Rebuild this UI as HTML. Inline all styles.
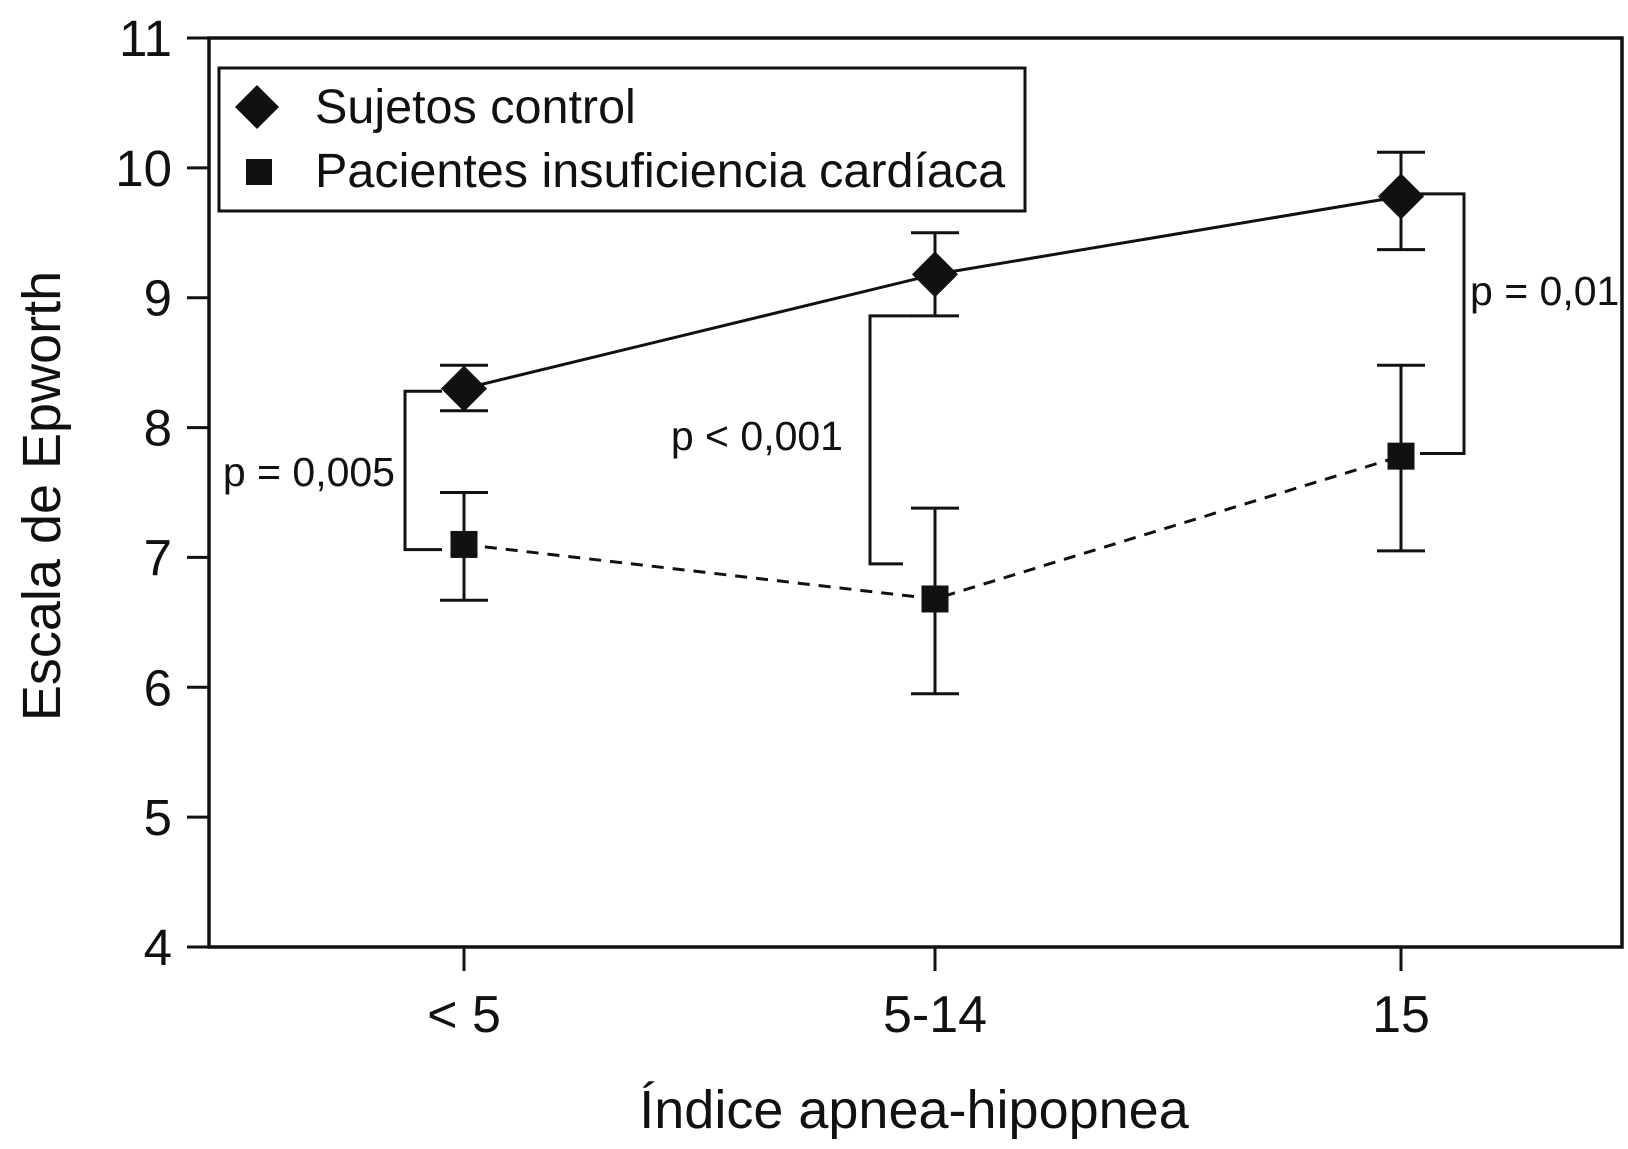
<!DOCTYPE html>
<html><head><meta charset="utf-8"><style>
html,body{margin:0;padding:0;background:#fff;}
svg{display:block;font-family:"Liberation Sans",sans-serif;}
</style></head><body>
<svg id="chart" width="1628" height="1149" viewBox="0 0 1628 1149"></svg>
<script>
const categories = ["< 5", "5-14", "15"];
const controlMean = [8.3, 9.18, 9.78];
const controlLow = [8.13, 8.86, 9.37];
const controlHigh = [8.48, 9.5, 10.12];
const patientMean = [7.1, 6.68, 7.78];
const patientLow = [6.67, 5.95, 7.05];
const patientHigh = [7.5, 7.38, 8.48];
const yTicks = [4, 5, 6, 7, 8, 9, 10, 11];
const pLabels = ["p = 0,005", "p < 0,001", "p = 0,01"];

const NS = "http://www.w3.org/2000/svg";
const svg = document.getElementById("chart");
const L = 209, R = 1622, T = 38, B = 947;
const catX = [464, 935, 1401];
function x(i){ return catX[i]; }
function y(v){ return B - (v - 4) / 7 * (B - T); }
function mk(tag, attrs, parent){
  const e = document.createElementNS(NS, tag);
  for (const k in attrs) e.setAttribute(k, attrs[k]);
  (parent || svg).appendChild(e);
  return e;
}
const S = "#111";
const frame = mk("rect", {x:L, y:T, width:R-L, height:B-T, fill:"none", stroke:S, "stroke-width":3.5});


yTicks.forEach(v => {
  const t = mk("line", {x1:187, x2:L, y1:y(v), y2:y(v), stroke:S, "stroke-width":3});
  
  
  const lb = mk("text", {x:172, y:y(v)+18, "text-anchor":"end", "font-size":51, fill:S});
  lb.textContent = v;
  
  
});
categories.forEach((c, i) => {
  const t = mk("line", {x1:x(i), x2:x(i), y1:B, y2:971, stroke:S, "stroke-width":3});
  
  
  const lb = mk("text", {x:x(i), y:1032, "text-anchor":"middle", "font-size":52, fill:S});
  lb.textContent = c;
  
  
});
const xt = mk("text", {x:914, y:1128, "text-anchor":"middle", "font-size":54, fill:S});
xt.textContent = "Índice apnea-hipopnea";


const yt = mk("text", {x:0, y:0, "text-anchor":"middle", "font-size":54, fill:S, transform:"translate(60,496) rotate(-90)"});
yt.textContent = "Escala de Epworth";


const cPts = controlMean.map((v,i)=>x(i)+","+y(v)).join(" ");
const cl = mk("polyline", {points:cPts, fill:"none", stroke:S, "stroke-width":3});


const pPts = patientMean.map((v,i)=>x(i)+","+y(v)).join(" ");
const pl = mk("polyline", {points:pPts, fill:"none", stroke:S, "stroke-width":3, "stroke-dasharray":"12,9"});


function errBar(i, lo, hi, name){
  const g = mk("g", {stroke:S, "stroke-width":3});
  
  
  mk("line", {x1:x(i), x2:x(i), y1:y(lo), y2:y(hi)}, g);
  mk("line", {x1:x(i)-24, x2:x(i)+24, y1:y(lo), y2:y(lo)}, g);
  mk("line", {x1:x(i)-24, x2:x(i)+24, y1:y(hi), y2:y(hi)}, g);
}
categories.forEach((c,i)=>{
  errBar(i, controlLow[i], controlHigh[i], 'control-error-bar');
  errBar(i, patientLow[i], patientHigh[i], 'patient-error-bar');
});
categories.forEach((c,i)=>{
  const cx = x(i), cy = y(controlMean[i]);
  const d = mk("polygon", {points:`${cx},${cy-23} ${cx+23},${cy} ${cx},${cy+23} ${cx-23},${cy}`, fill:S});
  
  
  const py = y(patientMean[i]);
  const s = mk("rect", {x:cx-13.5, y:py-13.5, width:27, height:27, fill:S});
  
  
});
function bracket(bx, x1Top, x1Bot, yTop, yBot, name){
  const p = mk("polyline", {points:`${x1Top},${yTop} ${bx},${yTop} ${bx},${yBot} ${x1Bot},${yBot}`, fill:"none", stroke:S, "stroke-width":3});
  
  
}
bracket(405, 442, 442, y(8.28), y(7.06), 'bracket-lt5');
bracket(870, 912, 903, y(8.86), y(6.95), 'bracket-5-14');
bracket(1464, 1420, 1420, y(9.8), y(7.8), 'bracket-15');
const pPos = [[395,486,"end"],[843,450,"end"],[1470,305,"start"]];
pLabels.forEach((t,i)=>{
  const e = mk("text", {x:pPos[i][0], y:pPos[i][1], "text-anchor":pPos[i][2], "font-size":41, fill:S});
  e.textContent = t;
  
  
});
const lg = mk("g", {});


mk("rect", {x:219, y:68, width:806, height:143, fill:"#fff", stroke:S, "stroke-width":3}, lg);
const ld = mk("polygon", {points:"257,85 279,107 257,129 235,107", fill:S}, lg);


const ls = mk("rect", {x:246, y:159, width:26, height:26, fill:S}, lg);


const t1 = mk("text", {x:315, y:123, "font-size":48.5, fill:S}, lg);
t1.textContent = "Sujetos control";


const t2 = mk("text", {x:315, y:187, "font-size":48.5, fill:S}, lg);
t2.textContent = "Pacientes insuficiencia cardíaca";


</script>
</body></html>
